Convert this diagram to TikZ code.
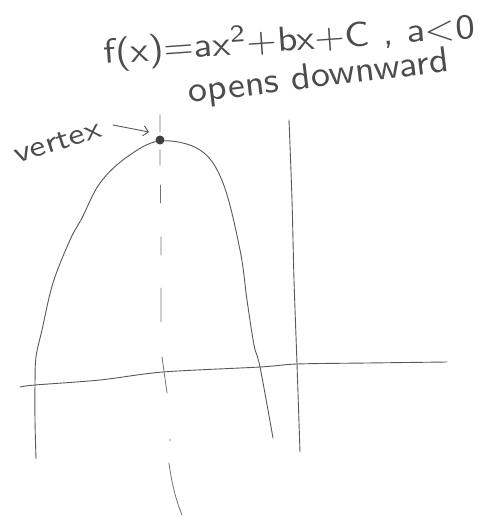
\documentclass[tikz,border=0pt]{standalone}
\usepackage{fontspec}
\usepackage{graphicx}
\usetikzlibrary{arrows.meta}
\tikzset{
  pen/.style={draw=black!65, line width=0.9pt, line cap=round, line join=round},
  dashpen/.style={draw=black!55, line width=0.8pt, line cap=round},
  hand/.style={text=black!70, inner sep=0pt, font=\sffamily, anchor=base},
  dot/.style={circle, fill=black!75, minimum size=9pt, inner sep=0pt},
}
\begin{document}
\begin{tikzpicture}[x=1pt,y=-1pt]
\useasboundingbox (0,0) rectangle (478,519);
\fill[white] (0,0) rectangle (478,519);
% x-axis
\draw[pen] plot[smooth] coordinates {(20,387) (35,385) (100,380) (163,372) (260,367) (297,364) (367,363) (447,362)};
% y-axis
\draw[pen] plot[smooth] coordinates {(289,120) (292,200) (294,280) (297,364) (300,452)};
% parabola
\draw[pen] plot[smooth, tension=0.6] coordinates {(36,459) (35,420) (35,385) (36,357) (42,330) (53,283) (70,240) (82,218) (100,183) (127,157) (160,141) (200,150) (223,183) (240,250) (247,300) (254,345) (260,367) (273,438)};
% axis of symmetry
\draw[dashpen] (160,115)--(160,132) (160,150)--(160,165) (160.5,185)--(160.5,203)
  (161,237)--(161,255) (161,288)--(161,322) (162,357)--(167,393) (170,439)--(170,441)
  (169,463) .. controls (172,485) and (176,500) .. (182,515);
% vertex
\node[dot] (vtx) at (160,140) {};
% labels
\node[hand, rotate=4] (title) at (290,51) {\resizebox{372pt}{29pt}{f(x)=ax\textsuperscript{2}+bx+C , a<0}};
\node[hand, rotate=7] (opens) at (320,87) {\resizebox{262pt}{25pt}{opens downward}};
\node[hand, rotate=18] (vlabel) at (60,150) {\resizebox{90pt}{17pt}{vertex}};
\coordinate (arrS) at (113,125);
\coordinate (arrE) at (149,132);
\draw[pen, -{Straight Barb[length=5pt]}] (arrS) -- (arrE);
\end{tikzpicture}
\end{document}
